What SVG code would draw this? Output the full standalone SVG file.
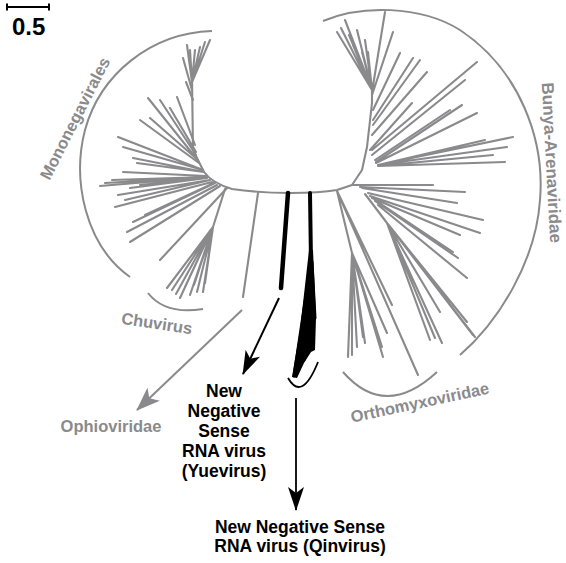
<svg xmlns="http://www.w3.org/2000/svg" width="566" height="563" viewBox="0 0 566 563">
<style>
.g{fill:none;stroke:#8a8a8c;stroke-width:2.1;stroke-linecap:round;stroke-linejoin:round}
.br{fill:none;stroke:#8a8a8c;stroke-width:2}
.k{fill:none;stroke:#000;stroke-linecap:round}
.lg{font-family:"Liberation Sans",Arial,sans-serif;font-weight:bold;font-size:16.5px;fill:#8a8a8c}
.lk{font-family:"Liberation Sans",Arial,sans-serif;font-weight:bold;font-size:17.5px;fill:#000;text-anchor:middle}
</style>
<defs>
<marker id="ak" markerUnits="userSpaceOnUse" viewBox="0 0 24 16" markerWidth="24" markerHeight="16" refX="23" refY="8" orient="auto"><path d="M0,0 L24,8 L0,16 L6,8 Z" fill="#000"/></marker>
<marker id="ag" markerUnits="userSpaceOnUse" viewBox="0 0 24 18" markerWidth="24" markerHeight="18" refX="23" refY="9" orient="auto"><path d="M0,0 L24,9 L0,18 L6,9 Z" fill="#8a8a8c"/></marker>
</defs>
<rect width="566" height="563" fill="#fff"/>
<g id="scale">
<path d="M7,7 H49 M7,3.5 V10.5 M49,3.5 V10.5" stroke="#000" stroke-width="2" fill="none"/>
<text x="12" y="35" style="font-family:'Liberation Sans',Arial,sans-serif;font-weight:bold;font-size:24px">0.5</text>
</g>
<g id="tree-grey">
<path class="g" d="M192,78 L193,150 L204,172 Q212,183 232,189 Q260,193 290,193 Q320,193 337,190 L352,185 L362,170 L367,147 L372,103 L372,88"/>
<path class="g" d="M192,82 L187,45 M192,82 L190,50 M192,82 L195,50 M192,82 L200,47 M192,82 L205,42 M192,82 L210,40 M192,90 L183,58 M193,100 L186,82"/>
<path class="g" d="M196,158 L148,98 M196,155 L160,100 M195,145 L177,97 M196,152 L170,108 M199,163 L140,120 M198,160 L150,118 M203,170 L118,137 M203,170 L123,147 M204,172 L133,158 M204,172 L137,163 M207,177 L105,183 M206,176 L123,172 M207,178 L130,188 M207,177 L112,180 M207,178 L140,185 M207,177 L100,186 M210,180 L118,195 M210,180 L125,200 M212,182 L115,207 M214,183 L145,215 M215,183 L133,222 M217,185 L127,232 M220,186 L130,242 M227,188 L160,260"/>
<path class="g" d="M225,189 L213,227 M213,227 L167,288 M213,227 L172,290 M213,227 L176,294 M213,227 L180,298 M213,227 L185,287 M213,227 L190,295 M213,227 L194,285 M213,227 L197,292 M213,227 L203,292 M213,227 L205,283"/>
<path class="g" d="M258,193 L243,297"/>
<path class="g" d="M372,90 L337,32 M372,90 L341,28 M372,90 L345,20 M372,90 L349,35 M372,90 L353,45 M372,90 L357,30 M372,90 L362,52 M372,90 L365,40 M372,90 L368,52 M372,92 L385,12 M372,95 L393,32"/>
<path class="g" d="M373,110 L400,53 M373,120 L413,58 M373,125 L420,60 M372,135 L427,72 M370,150 L412,103 M372,150 L477,62 M372,155 L465,80 M375,160 L450,110 M376,163 L477,113 M376,162 L462,105 M378,165 L513,137 M378,165 L507,147 M378,166 L505,162 M378,166 L493,155 M378,165 L485,140"/>
<path class="g" d="M352,185 L433,185 M360,187 L465,192 M362,188 L457,203 M368,193 L483,220 M370,196 L480,233 M372,198 L460,235 M375,200 L453,252 M375,201 L458,258 M378,205 L467,278 M365,194 L387,223 M387,223 L430,340 M387,223 L435,338 M387,223 L440,312 M387,223 L467,322 M387,223 L473,335 M387,223 L475,337 M387,223 L442,343"/>
<path class="g" d="M337,191 L418,375 M337,191 L392,305 M337,191 L352,253 M352,253 L348,357 M352,253 L352,355 M352,253 L357,347 M352,253 L363,337 M352,253 L365,343 M352,253 L375,330 M352,253 L383,357 M352,253 L382,347 M352,253 L387,333"/>
</g>
<g id="tree-black">
<path class="k" stroke-width="4.5" d="M288,193 L281,288"/>
<path class="k" stroke-width="4" d="M310,193 L311,262"/>
<polygon points="309,250 313,250 316,318 315,350 311,352 304,363 297,378 292,377 300,330" fill="#000"/>
<path class="k" stroke-width="3" d="M311,262 L294,376 M311,262 L299,368 M311,262 L304,360 M312,262 L308,352 M312,262 L313,348 M312,262 L315,318"/>
</g>
<g id="brackets">
<path class="br" d="M212,31 C150,33 100,75 85,130 C72,180 85,245 130,277"/>
<path class="br" d="M323,21 C360,5 420,5 460,30 C520,70 545,140 540,200 C536,260 500,320 460,355"/>
<path class="br" d="M148,293 Q165,315 203,309"/>
<path class="br" d="M343,372 Q385,420 437,372"/>
<path d="M288,378 Q302,402 318,362" fill="none" stroke="#000" stroke-width="1.8"/>
</g>
<g id="connectors">
<path d="M279,298 L243,374" stroke="#000" stroke-width="2" fill="none" marker-end="url(#ak)"/>
<path d="M242,310 L137,410" stroke="#8a8a8c" stroke-width="2" fill="none" marker-end="url(#ag)"/>
<path d="M296,398 L296,510" stroke="#000" stroke-width="1.8" fill="none" marker-end="url(#ak)"/>
</g>
<g id="label-mononegavirales"><text class="lg" x="80" y="121" text-anchor="middle" transform="rotate(-63 80 121)">Mononegavirales</text></g>
<g id="label-bunya"><text class="lg" x="546" y="163" text-anchor="middle" transform="rotate(87 546 163)" style="font-size:17px">Bunya-Arenaviridae</text></g>
<g id="label-chuvirus"><text class="lg" x="156" y="329" text-anchor="middle" transform="rotate(8.5 156 329)">Chuvirus</text></g>
<g id="label-ophioviridae"><text class="lg" x="111" y="432" text-anchor="middle">Ophioviridae</text></g>
<g id="label-orthomyxoviridae"><text class="lg" x="421" y="408" text-anchor="middle" transform="rotate(-12 421 408)">Orthomyxoviridae</text></g>
<g id="label-yuevirus"><text class="lk"><tspan x="224" y="397">New</tspan><tspan x="224" y="417">Negative</tspan><tspan x="224" y="437">Sense</tspan><tspan x="224" y="457">RNA virus</tspan><tspan x="224" y="477">(Yuevirus)</tspan></text></g>
<g id="label-qinvirus"><text class="lk"><tspan x="300" y="533">New Negative Sense</tspan><tspan x="300" y="552">RNA virus (Qinvirus)</tspan></text></g>
</svg>
